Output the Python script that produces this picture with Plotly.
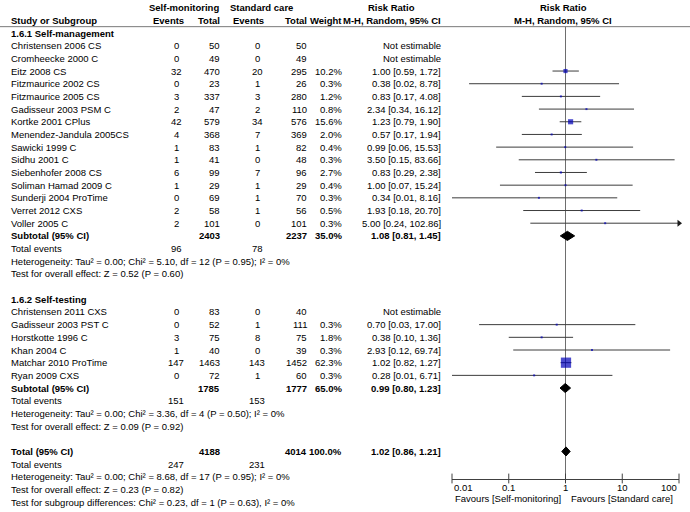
import math
import plotly.graph_objects as go

# 1.6.1 Self-management
sm_study = ["Christensen 2006 CS", "Cromheecke 2000 C", "Eitz 2008 CS", "Fitzmaurice 2002 CS",
            "Fitzmaurice 2005 CS", "Gadisseur 2003 PSM C", "Kortke 2001 CPlus",
            "Menendez-Jandula 2005CS", "Sawicki 1999 C", "Sidhu 2001 C", "Siebenhofer 2008 CS",
            "Soliman Hamad 2009 C", "Sunderji 2004 ProTime", "Verret 2012 CXS", "Voller 2005 C"]
sm_ev_self = [0, 0, 32, 0, 3, 2, 42, 4, 1, 1, 6, 1, 0, 2, 2]
sm_n_self = [50, 49, 470, 23, 337, 47, 579, 368, 83, 41, 99, 29, 69, 58, 101]
sm_ev_std = [0, 0, 20, 1, 3, 2, 34, 7, 1, 0, 7, 1, 1, 1, 0]
sm_n_std = [50, 49, 295, 26, 280, 110, 576, 369, 82, 48, 96, 29, 70, 56, 101]
sm_weight = [None, None, 10.2, 0.3, 1.2, 0.8, 15.6, 2.0, 0.4, 0.3, 2.7, 0.4, 0.3, 0.5, 0.3]
sm_rr = [None, None, 1.00, 0.38, 0.83, 2.34, 1.23, 0.57, 0.99, 3.50, 0.83, 1.00, 0.34, 1.93, 5.00]
sm_lo = [None, None, 0.59, 0.02, 0.17, 0.34, 0.79, 0.17, 0.06, 0.15, 0.29, 0.07, 0.01, 0.18, 0.24]
sm_hi = [None, None, 1.72, 8.78, 4.08, 16.12, 1.90, 1.94, 15.53, 83.66, 2.38, 15.24, 8.16, 20.70, 102.86]

# 1.6.2 Self-testing
st_study = ["Christensen 2011 CXS", "Gadisseur 2003 PST C", "Horstkotte 1996 C", "Khan 2004 C",
            "Matchar 2010 ProTime", "Ryan 2009 CXS"]
st_ev_self = [0, 0, 3, 1, 147, 0]
st_n_self = [83, 52, 75, 40, 1463, 72]
st_ev_std = [0, 1, 8, 0, 143, 1]
st_n_std = [40, 111, 75, 39, 1452, 60]
st_weight = [None, 0.3, 1.8, 0.3, 62.3, 0.3]
st_rr = [None, 0.70, 0.38, 2.93, 1.02, 0.28]
st_lo = [None, 0.03, 0.10, 0.12, 0.82, 0.01]
st_hi = [None, 17.00, 1.36, 69.74, 1.27, 6.71]

# subgroup summaries (self-management, self-testing)
sub_n_self = [2403, 1785]
sub_n_std = [2237, 1777]
sub_weight = [35.0, 65.0]
sub_rr = [1.08, 0.99]
sub_lo = [0.81, 0.80]
sub_hi = [1.45, 1.23]
sub_ev_self = [96, 151]
sub_ev_std = [78, 153]
sub_het = ["Heterogeneity: Tau² = 0.00; Chi² = 5.10, df = 12 (P = 0.95); I² = 0%",
           "Heterogeneity: Tau² = 0.00; Chi² = 3.36, df = 4 (P = 0.50); I² = 0%"]
sub_z = ["Test for overall effect: Z = 0.52 (P = 0.60)",
         "Test for overall effect: Z = 0.09 (P = 0.92)"]

# overall
tot_n_self, tot_n_std, tot_weight = 4188, 4014, 100.0
tot_rr, tot_lo, tot_hi = 1.02, 0.86, 1.21
tot_ev_self, tot_ev_std = 247, 231
tot_het = "Heterogeneity: Tau² = 0.00; Chi² = 8.68, df = 17 (P = 0.95); I² = 0%"
tot_z = "Test for overall effect: Z = 0.23 (P = 0.82)"
tot_sub = "Test for subgroup differences: Chi² = 0.23, df = 1 (P = 0.63), I² = 0%"

tick_vals = [0.01, 0.1, 1, 10, 100]
tick_text = ["0.01", "0.1", "1", "10", "100"]

W, H = 690, 512
FONT = "Liberation Sans, Arial, sans-serif"
FS = 9.5

ROW0_PX, ROW_PX = 33, 12.68   # y of row 0 and row pitch, in pixels

# column positions in pixels
COL_STUDY = 9
COL_EV1 = 176   # centred
COL_N1 = 222    # right
COL_EV2 = 257   # centred
COL_N2 = 309    # right
COL_W = 344     # right
COL_RR = 443    # right

AXIS_PX = 478.5
AXIS_ROW = (AXIS_PX - ROW0_PX) / ROW_PX

annotations = []


def txt(s, x, row, anchor="left", bold=False):
    if bold:
        s = "<b>" + s + "</b>"
    annotations.append(dict(text=s, x=x / W, xref="paper", y=row, yref="y",
                            xanchor=anchor, yanchor="middle", showarrow=False,
                            font=dict(family=FONT, size=FS, color="black")))


def rr_str(rr, lo, hi):
    return f"{rr:.2f} [{lo:.2f}, {hi:.2f}]"


# header
txt("Self-monitoring", 147, -2, bold=True)
txt("Standard care", 228, -2, bold=True)
txt("Risk Ratio", 391, -2, "center", bold=True)
txt("Risk Ratio", 563, -2, "center", bold=True)
txt("Study or Subgroup", COL_STUDY, -1, bold=True)
txt("Events", 168, -1, "center", bold=True)
txt("Total", COL_N1, -1, "right", bold=True)
txt("Events", 248, -1, "center", bold=True)
txt("Total", COL_N2, -1, "right", bold=True)
txt("Weight", COL_W, -1, "right", bold=True)
txt("M-H, Random, 95% CI", COL_RR, -1, "right", bold=True)
txt("M-H, Random, 95% CI", 563, -1, "center", bold=True)

groups = [
    ("1.6.1 Self-management", sm_study, sm_ev_self, sm_n_self, sm_ev_std, sm_n_std,
     sm_weight, sm_rr, sm_lo, sm_hi),
    ("1.6.2 Self-testing", st_study, st_ev_self, st_n_self, st_ev_std, st_n_std,
     st_weight, st_rr, st_lo, st_hi),
]

study_rows, study_rr, study_lo, study_hi, study_w = [], [], [], [], []
diamonds = []
row = 0
for g, (title, study, e1, n1, e2, n2, wt, rr, lo, hi) in enumerate(groups):
    txt(title, COL_STUDY, row, bold=True)
    row += 1
    for i in range(len(study)):
        txt(study[i], COL_STUDY, row)
        txt(str(e1[i]), COL_EV1, row, "center")
        txt(str(n1[i]), COL_N1, row, "right")
        txt(str(e2[i]), COL_EV2, row, "center")
        txt(str(n2[i]), COL_N2, row, "right")
        if rr[i] is None:
            txt("Not estimable", COL_RR, row, "right")
        else:
            txt(f"{wt[i]:.1f}%", COL_W, row, "right")
            txt(rr_str(rr[i], lo[i], hi[i]), COL_RR, row, "right")
            study_rows.append(row)
            study_rr.append(rr[i])
            study_lo.append(lo[i])
            study_hi.append(hi[i])
            study_w.append(wt[i])
        row += 1
    txt("Subtotal (95% CI)", COL_STUDY, row, bold=True)
    txt(str(sub_n_self[g]), COL_N1, row, "right", bold=True)
    txt(str(sub_n_std[g]), COL_N2, row, "right", bold=True)
    txt(f"{sub_weight[g]:.1f}%", COL_W, row, "right", bold=True)
    txt(rr_str(sub_rr[g], sub_lo[g], sub_hi[g]), COL_RR, row, "right", bold=True)
    diamonds.append((row, sub_rr[g], sub_lo[g], sub_hi[g]))
    row += 1
    txt("Total events", COL_STUDY, row)
    txt(str(sub_ev_self[g]), COL_EV1, row, "center")
    txt(str(sub_ev_std[g]), COL_EV2, row, "center")
    row += 1
    txt(sub_het[g], COL_STUDY, row)
    row += 1
    txt(sub_z[g], COL_STUDY, row)
    row += 2

txt("Total (95% CI)", COL_STUDY, row, bold=True)
txt(str(tot_n_self), COL_N1, row, "right", bold=True)
txt(str(tot_n_std), COL_N2, row, "right", bold=True)
txt(f"{tot_weight:.1f}%", COL_W, row, "right", bold=True)
txt(rr_str(tot_rr, tot_lo, tot_hi), COL_RR, row, "right", bold=True)
diamonds.append((row, tot_rr, tot_lo, tot_hi))
row += 1
txt("Total events", COL_STUDY, row)
txt(str(tot_ev_self), COL_EV1, row, "center")
txt(str(tot_ev_std), COL_EV2, row, "center")
row += 1
txt(tot_het, COL_STUDY, row)
row += 1
txt(tot_z, COL_STUDY, row)
row += 1
txt(tot_sub, COL_STUDY, row)

fig = go.Figure()

# line of no effect
fig.add_trace(go.Scatter(x=[1, 1], y=[-0.5, AXIS_ROW], mode="lines",
                         line=dict(color="#6e6e6e", width=1), hoverinfo="skip"))

# confidence intervals
ci_x, ci_y = [], []
for r, lo, hi in zip(study_rows, study_lo, study_hi):
    ci_x += [lo, hi, None]
    ci_y += [r, r, None]
fig.add_trace(go.Scatter(x=ci_x, y=ci_y, mode="lines",
                         line=dict(color="#3c3c3c", width=1), hoverinfo="skip"))

# arrows for intervals running off the scale
arr_y = [r for r, hi in zip(study_rows, study_hi) if hi > tick_vals[-1]]
fig.add_trace(go.Scatter(x=[tick_vals[-1]] * len(arr_y), y=arr_y, mode="markers",
                         marker=dict(symbol="triangle-right", size=6, color="#1a1a1a"),
                         cliponaxis=False, hoverinfo="skip"))

# study squares, area proportional to weight
fig.add_trace(go.Scatter(x=study_rr, y=study_rows, mode="markers",
                         marker=dict(symbol="square", color="#0000b8",
                                     size=[max(2, 1.3 * math.sqrt(w)) for w in study_w],
                                     line=dict(width=0)),
                         hoverinfo="skip"))

# pooled diamonds
for r, est, lo, hi in diamonds:
    fig.add_trace(go.Scatter(x=[lo, est, hi, est, lo], y=[r, r - 0.36, r, r + 0.36, r],
                             mode="lines", fill="toself", fillcolor="black",
                             line=dict(color="black", width=1), hoverinfo="skip"))

# tick marks crossing the axis line
fig.add_trace(go.Scatter(x=tick_vals, y=[AXIS_ROW] * len(tick_vals), mode="markers",
                         marker=dict(symbol="line-ns", size=7,
                                     line=dict(color="#404040", width=1)),
                         cliponaxis=False, hoverinfo="skip"))

# tick labels
for i, (v, t) in enumerate(zip(tick_vals, tick_text)):
    anchor = "left" if i == 0 else ("right" if i == len(tick_vals) - 1 else "center")
    annotations.append(dict(text=t, x=math.log10(v), xref="x", y=AXIS_ROW + 0.7, yref="y",
                            xanchor=anchor, yanchor="middle", showarrow=False,
                            font=dict(family=FONT, size=FS, color="black")))

annotations.append(dict(text="Favours [Self-monitoring]", x=0, xref="x", xshift=-3,
                        y=AXIS_ROW + 1.55, yref="y", xanchor="right", yanchor="middle",
                        showarrow=False, font=dict(family=FONT, size=FS, color="black")))
annotations.append(dict(text="Favours [Standard care]", x=0, xref="x", xshift=3,
                        y=AXIS_ROW + 1.55, yref="y", xanchor="left", yanchor="middle",
                        showarrow=False, font=dict(family=FONT, size=FS, color="black")))

fig.update_layout(
    width=W, height=H,
    margin=dict(l=0, r=0, t=0, b=0),
    paper_bgcolor="white", plot_bgcolor="rgba(0,0,0,0)",
    showlegend=False,
    annotations=annotations,
    shapes=[dict(type="line", xref="paper", yref="y", x0=0, x1=1, y0=-0.5, y1=-0.5,
                 line=dict(color="#7a7a7a", width=1))],
    xaxis=dict(type="log", range=[-2, 2], domain=[452 / W, 679 / W],
               anchor="free", position=1 - AXIS_PX / H,
               showline=True, linecolor="#404040", linewidth=1,
               showgrid=False, zeroline=False, showticklabels=False, ticks=""),
    yaxis=dict(range=[(H - ROW0_PX) / ROW_PX, -ROW0_PX / ROW_PX],
               domain=[0, 1], visible=False),
)

# drop the page's default body margin so the figure sits at the top-left corner
fig.write_html("out.html", config={"displayModeBar": False},
               post_script="document.body.style.margin = '0px';")
